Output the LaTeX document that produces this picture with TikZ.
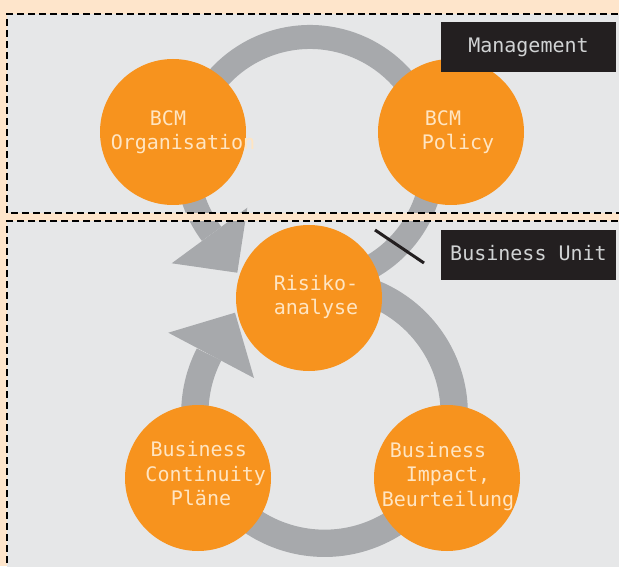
\documentclass[tikz,border=0pt]{standalone}
\usepackage{fontspec}
\newfontfamily\monofont{DejaVu Sans Mono}
\definecolor{peach}{HTML}{FEE5CB}
\definecolor{panelgray}{HTML}{E6E7E8}
\definecolor{ringgray}{HTML}{A7A9AC}
\definecolor{bcmorange}{HTML}{F7931E}
\definecolor{cream}{HTML}{FFE5C2}
\definecolor{boxblack}{HTML}{231F20}
\definecolor{labelgray}{HTML}{D1D3D4}
\tikzset{
  bubble/.style={circle, fill=bcmorange, minimum size=146pt, inner sep=0pt},
  bubtext/.style={text=cream, font=\monofont\fontsize{20}{24.5}\selectfont, align=center, inner sep=0pt},
  ringband/.style={draw=ringgray, line width=#1},
  headfill/.style={fill=ringgray},
  tagbox/.style={fill=boxblack, text=labelgray, font=\monofont\fontsize{20}{24.5}\selectfont,
    minimum width=175pt, minimum height=50pt, inner sep=0pt, text height=15.2pt, text depth=4.7pt},
  paneldash/.style={draw=black, line width=1.5pt, dash pattern=on 7pt off 4pt},
  slash/.style={draw=boxblack, line width=3pt}
}
\begin{document}
\begin{tikzpicture}[x=1pt,y=1pt]
\useasboundingbox (0,0) rectangle (619,566);
\clip (0,0) rectangle (619,566);
% background and panels
\fill[peach] (0,0) rectangle (619,566);
\fill[panelgray] (7,552) rectangle (640,353);
\fill[panelgray] (7,345) rectangle (640,-10);
% upper ring with arrowhead
\draw[ringband=24pt] ([shift={(-70:123pt)}]310,406) arc[start angle=-70, end angle=216.9, radius=123pt];
\fill[headfill] (171.7,302.7) -- (247.3,358.3) -- (237.3,293.3) -- cycle;
% lower ring with arrowhead
\draw[ringband=27.3pt] ([shift={(80:129.7pt)}]324.5,152.4) arc[start angle=80, end angle=-207.1, radius=129.7pt];
\fill[headfill] (168.3,233.3) -- (254,188) -- (235,253.3) -- cycle;
% circles
\node[bubble] (org) at (173,434) {};
\node[bubble] (pol) at (451,434) {};
\node[bubble] (risk) at (309,268) {};
\node[bubble] (bcp) at (198,88) {};
\node[bubble] (bia) at (447,88) {};
% circle texts
\node[bubtext] (orgt) at (183,433.7) {BCM\hspace*{30pt}\\Organisation};
\node[bubtext] (polt) at (458,433.7) {BCM\hspace*{30pt}\\Policy};
\node[bubtext] (riskt) at (316,269) {Risiko-\\analyse};
\node[bubtext] (bcpt) at (205.7,92.1) {Business\hspace*{14pt}\\Continuity\\Pl\"ane\hspace*{9.4pt}};
\node[bubtext] (biat) at (448,89.7) {Business\hspace*{20pt}\\Impact,\hspace*{12pt}\\Beurteilung};
% strip between panels and dashed borders
\fill[peach] (7,353) rectangle (640,345);
\draw[paneldash] (640,552) -- (7,552) -- (7,353) -- (640,353);
\draw[paneldash] (640,345) -- (7,345) -- (7,-10);
% slash mark
\coordinate (s1) at (375,336);
\coordinate (s2) at (424,303);
\draw[slash] (s1) -- (s2);
% labels
\node[tagbox] (mgmt) at (528.5,519) {Management};
\node[tagbox] (bu) at (528.5,311) {Business Unit};
\end{tikzpicture}
\end{document}
